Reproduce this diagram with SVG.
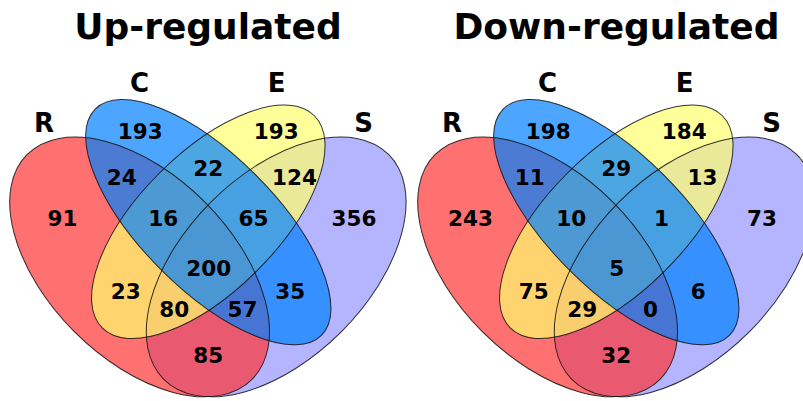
<svg xmlns="http://www.w3.org/2000/svg" xmlns:xlink="http://www.w3.org/1999/xlink" width="803" height="401" viewBox="0 0 803 401">
<style>
text{font-family:"DejaVu Sans","Liberation Sans",sans-serif;font-weight:bold;fill:#000;text-anchor:middle}
.title{font-size:36px}
.set{font-size:26px}
.num{font-size:21.5px}
.fR{fill:#ff3333;fill-opacity:0.7}
.fC{fill:#0080ff;fill-opacity:0.7}
.fE{fill:#ffff6e;fill-opacity:0.7}
.fS{fill:#9494ff;fill-opacity:0.7}
.edge{fill:none;stroke:#111;stroke-width:1;stroke-opacity:0.85}
</style>
<defs>
<ellipse id="shR" cx="0" cy="0" rx="159" ry="92" transform="translate(139.6 266.9) rotate(45)"/>
<ellipse id="shC" cx="0" cy="0" rx="160" ry="67" transform="translate(208.3 222.2) rotate(45)"/>
<ellipse id="shE" cx="0" cy="0" rx="150" ry="69" transform="translate(208.3 221.8) rotate(-45)"/>
<ellipse id="shS" cx="0" cy="0" rx="159" ry="92" transform="translate(276.2 266.9) rotate(-45)"/>
</defs>
<rect width="803" height="401" fill="#fff"/>
<g id="up">
<text class="title" x="208" y="38.5">Up-regulated</text>
<g id="up-S"><use xlink:href="#shS" class="fS"/><text class="set" x="363.5" y="131.5">S</text></g>
<g id="up-R"><use xlink:href="#shR" class="fR"/><text class="set" x="44" y="131.5">R</text></g>
<g id="up-E"><use xlink:href="#shE" class="fE"/><text class="set" x="276.7" y="91.5">E</text></g>
<g id="up-C"><use xlink:href="#shC" class="fC"/><text class="set" x="139.5" y="91.5">C</text></g>
<g id="up-edges">
<use xlink:href="#shS" class="edge"/><use xlink:href="#shR" class="edge"/><use xlink:href="#shE" class="edge"/><use xlink:href="#shC" class="edge"/>
</g>
<g id="up-counts" class="num">
<text class="num" x="140.3" y="139">193</text>
<text class="num" x="276.3" y="139">193</text>
<text class="num" x="121.7" y="185">24</text>
<text class="num" x="208.2" y="175.7">22</text>
<text class="num" x="294.5" y="185">124</text>
<text class="num" x="62.5" y="225.7">91</text>
<text class="num" x="163.2" y="225.7">16</text>
<text class="num" x="253.5" y="225.7">65</text>
<text class="num" x="354" y="225.7">356</text>
<text class="num" x="208.7" y="276">200</text>
<text class="num" x="125.8" y="299.3">23</text>
<text class="num" x="290.2" y="299.3">35</text>
<text class="num" x="174.2" y="316.7">80</text>
<text class="num" x="242.5" y="316.7">57</text>
<text class="num" x="208.2" y="363.3">85</text>
</g>
</g>
<g id="down">
<text class="title" x="616.5" y="38.5">Down-regulated</text>
<g transform="translate(408 0)">
<g id="down-S"><use xlink:href="#shS" class="fS"/><text class="set" x="363.5" y="131.5">S</text></g>
<g id="down-R"><use xlink:href="#shR" class="fR"/><text class="set" x="44" y="131.5">R</text></g>
<g id="down-E"><use xlink:href="#shE" class="fE"/><text class="set" x="276.7" y="91.5">E</text></g>
<g id="down-C"><use xlink:href="#shC" class="fC"/><text class="set" x="139.5" y="91.5">C</text></g>
<g id="down-edges">
<use xlink:href="#shS" class="edge"/><use xlink:href="#shR" class="edge"/><use xlink:href="#shE" class="edge"/><use xlink:href="#shC" class="edge"/>
</g>
<g id="down-counts">
<text class="num" x="140.3" y="139">198</text>
<text class="num" x="276.3" y="139">184</text>
<text class="num" x="121.7" y="185">11</text>
<text class="num" x="208.2" y="175.7">29</text>
<text class="num" x="294.5" y="185">13</text>
<text class="num" x="62.5" y="225.7">243</text>
<text class="num" x="163.2" y="225.7">10</text>
<text class="num" x="253.5" y="225.7">1</text>
<text class="num" x="354" y="225.7">73</text>
<text class="num" x="208.7" y="276">5</text>
<text class="num" x="125.8" y="299.3">75</text>
<text class="num" x="290.2" y="299.3">6</text>
<text class="num" x="174.2" y="316.7">29</text>
<text class="num" x="242.5" y="316.7">0</text>
<text class="num" x="208.2" y="363.3">32</text>
</g>
</g>
</g>
</svg>
